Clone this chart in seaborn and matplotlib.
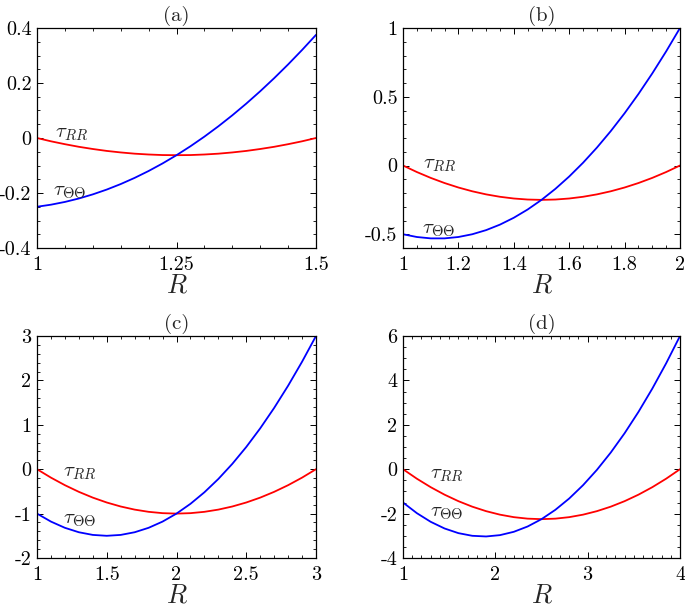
import matplotlib
matplotlib.use("Agg")
import matplotlib.pyplot as plt
import seaborn as sns
import pandas as pd
from matplotlib.ticker import FixedLocator, MultipleLocator

# ---------------- data ----------------
R_a = [1.0, 1.025, 1.05, 1.075, 1.1, 1.125, 1.15, 1.175, 1.2, 1.225, 1.25,
       1.275, 1.3, 1.325, 1.35, 1.375, 1.4, 1.425, 1.45, 1.475, 1.5]
tRR_a = [0.0, -0.012, -0.0225, -0.032, -0.04, -0.047, -0.0525, -0.057, -0.06, -0.062, -0.0625,
         -0.062, -0.06, -0.057, -0.0525, -0.047, -0.04, -0.032, -0.0225, -0.012, 0.0]
tTT_a = [-0.25, -0.2425, -0.2325, -0.22, -0.205, -0.1875, -0.1675, -0.145, -0.12, -0.0925, -0.0625,
         -0.03, 0.005, 0.0425, 0.0825, 0.125, 0.17, 0.2175, 0.2675, 0.32, 0.375]

R_b = [1.0, 1.05, 1.1, 1.15, 1.2, 1.25, 1.3, 1.35, 1.4, 1.45, 1.5,
       1.55, 1.6, 1.65, 1.7, 1.75, 1.8, 1.85, 1.9, 1.95, 2.0]
tRR_b = [0.0, -0.0475, -0.09, -0.1275, -0.16, -0.1875, -0.21, -0.2275, -0.24, -0.2475, -0.25,
         -0.2475, -0.24, -0.2275, -0.21, -0.1875, -0.16, -0.1275, -0.09, -0.0475, 0.0]
tTT_b = [-0.5, -0.52, -0.53, -0.53, -0.52, -0.5, -0.47, -0.43, -0.38, -0.32, -0.25,
         -0.17, -0.08, 0.02, 0.13, 0.25, 0.38, 0.52, 0.67, 0.83, 1.0]

R_c = [1.0, 1.1, 1.2, 1.3, 1.4, 1.5, 1.6, 1.7, 1.8, 1.9, 2.0,
       2.1, 2.2, 2.3, 2.4, 2.5, 2.6, 2.7, 2.8, 2.9, 3.0]
tRR_c = [0.0, -0.19, -0.36, -0.51, -0.64, -0.75, -0.84, -0.91, -0.96, -0.99, -1.0,
         -0.99, -0.96, -0.91, -0.84, -0.75, -0.64, -0.51, -0.36, -0.19, 0.0]
tTT_c = [-1.0, -1.18, -1.32, -1.42, -1.48, -1.5, -1.48, -1.42, -1.32, -1.18, -1.0,
         -0.78, -0.52, -0.22, 0.12, 0.5, 0.92, 1.38, 1.88, 2.42, 3.0]

R_d = [1.0, 1.15, 1.3, 1.45, 1.6, 1.75, 1.9, 2.05, 2.2, 2.35, 2.5,
       2.65, 2.8, 2.95, 3.1, 3.25, 3.4, 3.55, 3.7, 3.85, 4.0]
tRR_d = [0.0, -0.4275, -0.81, -1.1475, -1.44, -1.6875, -1.89, -2.0475, -2.16, -2.2275, -2.25,
         -2.2275, -2.16, -2.0475, -1.89, -1.6875, -1.44, -1.1475, -0.81, -0.4275, 0.0]
tTT_d = [-1.5, -1.98, -2.37, -2.67, -2.88, -3.0, -3.03, -2.97, -2.82, -2.58, -2.25,
         -1.83, -1.32, -0.72, -0.03, 0.75, 1.62, 2.58, 3.63, 4.77, 6.0]

titles = ["(a)", "(b)", "(c)", "(d)"]
xticks = [[1, 1.25, 1.5], [1, 1.2, 1.4, 1.6, 1.8, 2], [1, 1.5, 2, 2.5, 3], [1, 2, 3, 4]]
xticklabels = [["1", "1.25", "1.5"], ["1", "1.2", "1.4", "1.6", "1.8", "2"],
               ["1", "1.5", "2", "2.5", "3"], ["1", "2", "3", "4"]]
yticks = [[-0.4, -0.2, 0, 0.2, 0.4], [-0.5, 0, 0.5, 1], [-2, -1, 0, 1, 2, 3], [-4, -2, 0, 2, 4, 6]]
yticklabels = [["-0.4", "-0.2", "0", "0.2", "0.4"], ["-0.5", "0", "0.5", "1"],
               ["-2", "-1", "0", "1", "2", "3"], ["-4", "-2", "0", "2", "4", "6"]]
xlims = [(1, 1.5), (1, 2), (1, 3), (1, 4)]
ylims = [(-0.4, 0.4), (-0.6, 1), (-2, 3), (-4, 6)]
label_RR = r"$\tau_{RR}$"
label_TT = r"$\tau_{\Theta\Theta}$"
xlabel = r"$R$"

# ---------------- styling ----------------
sns.set_style("ticks")
plt.rcParams.update({
    "font.family": ["cmr10", "DejaVu Serif"],
    "mathtext.fontset": "cm",
    "axes.formatter.use_mathtext": True,
    "axes.unicode_minus": False,
    "axes.linewidth": 0.9,
    "axes.edgecolor": "black",
    "xtick.direction": "in",
    "ytick.direction": "in",
    "xtick.top": True,
    "ytick.right": True,
    "xtick.major.size": 4,
    "ytick.major.size": 4,
    "xtick.minor.size": 2.2,
    "ytick.minor.size": 2.2,
    "xtick.major.width": 0.7,
    "ytick.major.width": 0.7,
    "xtick.minor.width": 0.6,
    "ytick.minor.width": 0.6,
    "xtick.color": "black",
    "ytick.color": "black",
    "xtick.labelsize": 14.5,
    "ytick.labelsize": 14.5,
})

fig = plt.figure(figsize=(6.85, 6.08), dpi=100)
W, H = 685.0, 608.0
boxes = [(37, 28, 316, 248), (403, 28, 680, 248), (37, 336, 316, 558), (403, 336, 680, 558)]
minors = [(0.05, 0.05), (0.05, 0.1), (0.1, 0.2), (0.1, 0.5)]
ann = [((0.065, 0.52), (0.057, 0.255)), ((0.072, 0.377), (0.069, 0.082)),
       ((0.093, 0.383), (0.093, 0.171)), ((0.097, 0.374), (0.097, 0.203))]

series = [(R_a, tRR_a, tTT_a), (R_b, tRR_b, tTT_b), (R_c, tRR_c, tTT_c), (R_d, tRR_d, tTT_d)]

for i, (Rv, rr, tt) in enumerate(series):
    l, t, r, b = boxes[i]
    ax = fig.add_axes([l / W, 1 - b / H, (r - l) / W, (b - t) / H])
    df = pd.DataFrame({"R": Rv + Rv, "tau": rr + tt,
                       "comp": ["RR"] * len(Rv) + ["TT"] * len(Rv)})
    sns.lineplot(data=df, x="R", y="tau", hue="comp", palette={"RR": "#ff0000", "TT": "#0000ff"},
                 linewidth=1.3, legend=False, ax=ax, sort=False)
    ax.set_xlim(*xlims[i])
    ax.set_ylim(*ylims[i])
    ax.xaxis.set_major_locator(FixedLocator(xticks[i]))
    ax.yaxis.set_major_locator(FixedLocator(yticks[i]))
    ax.set_xticklabels(xticklabels[i])
    ax.set_yticklabels(yticklabels[i])
    ax.xaxis.set_minor_locator(MultipleLocator(minors[i][0]))
    ax.yaxis.set_minor_locator(MultipleLocator(minors[i][1]))
    ax.tick_params(which="both", top=True, right=True, direction="in")
    ax.tick_params(axis="x", pad=6)
    ax.tick_params(axis="y", pad=4)
    ax.set_xlabel(xlabel, fontsize=19, labelpad=0)
    ax.set_ylabel("")
    ax.set_title(titles[i], fontsize=15, pad=5)
    (x1, y1), (x2, y2) = ann[i]
    ax.text(x1, y1, label_RR, transform=ax.transAxes, fontsize=15, ha="left", va="center")
    ax.text(x2, y2, label_TT, transform=ax.transAxes, fontsize=15, ha="left", va="center")

fig.savefig("out.png", dpi=100)
